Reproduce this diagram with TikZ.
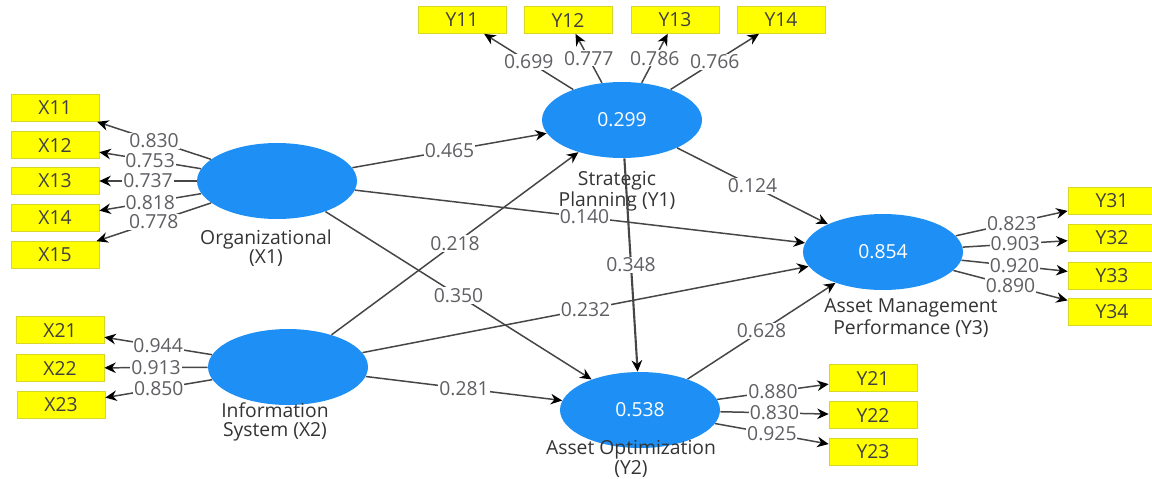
\documentclass[tikz,border=0pt]{standalone}
\usepackage{fontspec}
\setmainfont{Open Sans}
\usetikzlibrary{positioning}
\usetikzlibrary{shapes.geometric}
\usetikzlibrary{arrows.meta}

\definecolor{lvblue}{RGB}{30,144,245}
\definecolor{mvyellow}{RGB}{255,255,0}
\definecolor{mvborder}{RGB}{215,215,40}
\definecolor{linegrey}{RGB}{70,70,70}
\definecolor{coefgrey}{RGB}{95,95,100}

\begin{document}
\begin{tikzpicture}[
  x=0.02cm, y=-0.02cm,
  font=\fontsize{11}{10.5}\selectfont,
  latent/.style={ellipse,fill=lvblue,text=white,minimum width=3.2cm,minimum height=1.52cm,inner sep=0pt},
  manifest/.style={rectangle,fill=mvyellow,draw=mvborder,text=black!75,minimum width=1.76cm,minimum height=0.54cm,inner sep=0pt},
  lvname/.style={align=center,text=black!80},
  coef/.style={fill=white,text=coefgrey,inner sep=0.5pt},
  link/.style={draw=linegrey,line width=0.85pt,-{Stealth[black,length=6.5pt,width=6pt]}}
]
\useasboundingbox (0,0) rectangle (1152,478);

% latent variables
\node[latent] (x1) at (277,181) {};
\node[latent] (x2) at (288,367) {};
\node[latent] (y1) at (622,120) {0.299};
\node[latent] (y2) at (640,410) {0.538};
\node[latent] (y3) at (883,252) {0.854};

\node[lvname] (x1name) at (266,248) {Organizational\\(X1)};
\node[lvname] (x2name) at (275,422) {Information\\System (X2)};
\node[lvname] (y1name) at (617,191) {Strategic\\Planning (Y1)};
\node[lvname] (y2name) at (631,459) {Asset Optimization\\(Y2)};
\node[lvname] (y3name) at (911,318) {Asset Management\\Performance (Y3)};

% indicators
\node[manifest] (x11) at (55,108) {X11};
\node[manifest] (x12) at (55,145) {X12};
\node[manifest] (x13) at (55,181) {X13};
\node[manifest] (x14) at (55,218) {X14};
\node[manifest] (x15) at (55,255) {X15};

\node[manifest] (x21) at (60,330) {X21};
\node[manifest] (x22) at (60,368) {X22};
\node[manifest] (x23) at (61,405) {X23};

\node[manifest] (y11) at (462,20) {Y11};
\node[manifest] (y12) at (568,20) {Y12};
\node[manifest] (y13) at (675,20) {Y13};
\node[manifest] (y14) at (781,20) {Y14};

\node[manifest] (y21) at (873,378) {Y21};
\node[manifest] (y22) at (873,415) {Y22};
\node[manifest] (y23) at (873,452) {Y23};

\node[manifest] (y31) at (1112,201) {Y31};
\node[manifest] (y32) at (1112,238) {Y32};
\node[manifest] (y33) at (1112,276) {Y33};
\node[manifest] (y34) at (1112,312) {Y34};

% outer loadings
\path[link]
(x1) edge node[coef] {0.830} (x11)
(x1) edge node[coef] {0.753} (x12)
(x1) edge node[coef] {0.737} (x13)
(x1) edge node[coef] {0.818} (x14)
(x1) edge node[coef] {0.778} (x15)
(x2) edge node[coef] {0.944} (x21)
(x2) edge node[coef] {0.913} (x22)
(x2) edge node[coef] {0.850} (x23)
(y1) edge node[coef] {0.699} (y11)
(y1) edge node[coef] {0.777} (y12)
(y1) edge node[coef] {0.786} (y13)
(y1) edge node[coef] {0.766} (y14)
(y2) edge node[coef] {0.880} (y21)
(y2) edge node[coef] {0.830} (y22)
(y2) edge node[coef] {0.925} (y23)
(y3) edge node[coef] {0.823} (y31)
(y3) edge node[coef] {0.903} (y32)
(y3) edge node[coef] {0.920} (y33)
(y3) edge node[coef] {0.890} (y34)
;

% path coefficients
\path[link]
(x1) edge node[coef] {0.465} (y1)
(x1) edge node[coef] {0.350} (y2)
(x1) edge node[coef,pos=0.51] {0.140} (y3)
(x2) edge node[coef] {0.218} (y1)
(x2) edge node[coef] {0.281} (y2)
(x2) edge node[coef] {0.232} (y3)
(y1) edge node[coef] {0.124} (y3)
(y2) edge node[coef] {0.628} (y3)
(y1) edge[line width=1.2pt] node[coef] {0.348} (y2)
;
\end{tikzpicture}
\end{document}
